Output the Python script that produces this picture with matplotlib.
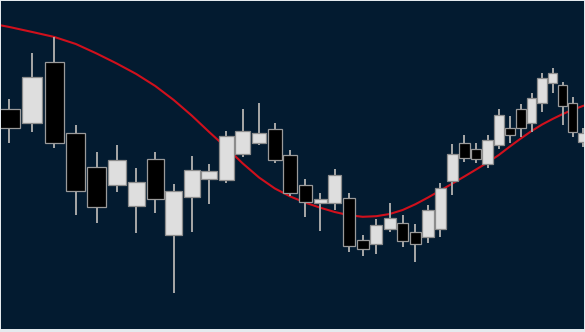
import numpy as np
import matplotlib
matplotlib.use("Agg")
import matplotlib.pyplot as plt

# Données OHLC (unités arbitraires)
opens  = [291, 277, 338, 267, 233, 215, 194, 241, 165, 203,
          221, 220, 246, 257, 271, 245, 215, 197, 197, 202,
          160, 156, 171, 177, 168, 163, 171, 219, 257, 251,
          236, 255, 272, 291, 277, 297, 317, 315, 297, 258]
highs  = [301, 347, 363, 275, 248, 255, 232, 248, 216, 244,
          236, 269, 291, 297, 277, 250, 221, 207, 231, 207,
          165, 181, 197, 185, 176, 195, 217, 256, 265, 257,
          265, 291, 284, 296, 307, 327, 332, 318, 303, 272]
lows   = [257, 268, 252, 185, 177, 208, 167, 187, 107, 168,
          196, 217, 243, 255, 237, 204, 183, 169, 190, 148,
          144, 146, 168, 153, 138, 157, 163, 205, 238, 237,
          232, 251, 257, 263, 268, 288, 307, 275, 263, 253]
closes = [272, 323, 257, 209, 193, 240, 218, 201, 209, 230,
          229, 264, 269, 267, 240, 207, 198, 201, 225, 154,
          151, 175, 182, 159, 156, 190, 212, 246, 242, 241,
          260, 285, 265, 272, 302, 322, 327, 294, 268, 267]

# Moyenne mobile (indices -1 à 40)
ma_index = np.arange(-1, 41)
ma_values = [377.5, 373, 368, 363, 356, 346.5, 336.5, 326, 314, 300, 284.5,
             268, 252.5, 236.5, 222.5, 211.5, 203.5, 197.3, 192.3, 188, 184.8,
             183.2, 183.8, 186, 190, 195.8, 202.5, 209.5, 216.5, 223.5, 230.5,
             237.5, 245, 253.5, 261.5, 269, 275.5, 281, 286, 290.3, 294, 297.3]

idx = np.arange(len(opens))
opens = np.array(opens)
closes = np.array(closes)
up = closes >= opens

# Échelle x compressée vers la droite
K = 28.7
def fwd(x):
    return np.log(np.maximum(np.asarray(x) + K, 1e-9))
def inv(y):
    return np.exp(y) - K

fig = plt.figure(figsize=(5.85, 3.32), dpi=100, facecolor='#e4eaee')
ax = fig.add_axes([1/585, 3/332, 583/585, 328/332])
ax.set_facecolor('#031b30')
ax.set_xscale('function', functions=(fwd, inv))

ax.plot(ma_index, ma_values, color='#d0101c', lw=1.5, zorder=1,
        solid_joinstyle='round')

ax.vlines(idx, lows, highs, color='#a8a8a8', lw=1.4, zorder=2)
bottom = np.minimum(opens, closes)
height = np.abs(closes - opens)
ax.bar(idx[up], height[up], bottom=bottom[up], width=0.9,
       color='#dedede', edgecolor='#8c8c8c', lw=0.9, zorder=3)
ax.bar(idx[~up], height[~up], bottom=bottom[~up], width=0.9,
       color='#000000', edgecolor='#9a9a9a', lw=0.9, zorder=3)

ax.set_xlim(-0.36, 39.12)
ax.set_ylim(71, 399)
ax.set_xticks([])
ax.set_yticks([])
ax.minorticks_off()
for s in ax.spines.values():
    s.set_visible(False)

fig.savefig("out.png", dpi=100, facecolor=fig.get_facecolor())
